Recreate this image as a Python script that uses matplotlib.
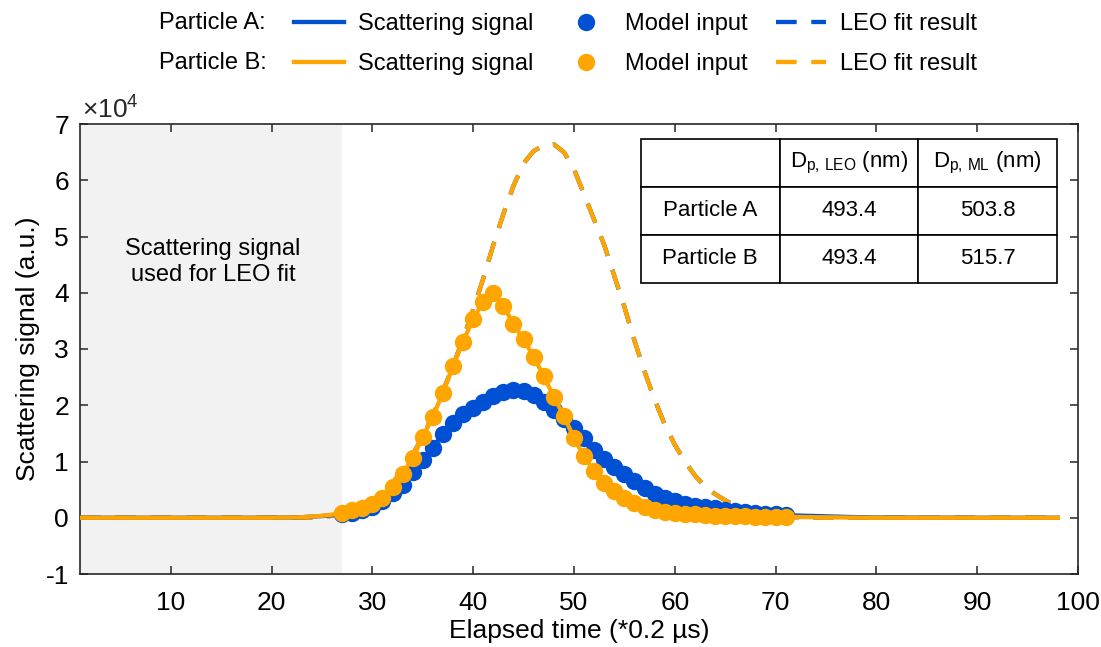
import matplotlib
matplotlib.use("Agg")
import matplotlib.pyplot as plt
from matplotlib.lines import Line2D

plt.rcParams['font.family'] = ['Liberation Sans', 'DejaVu Sans']
plt.rcParams['mathtext.fontset'] = 'custom'
plt.rcParams['mathtext.rm'] = 'Liberation Sans'
plt.rcParams['mathtext.it'] = 'Liberation Sans:italic'
plt.rcParams['axes.unicode_minus'] = False

# ---------------- data (signal in units of 1e4) ----------------
model_time = list(range(27, 72))
model_a = [0.06, 0.09, 0.13, 0.19, 0.29, 0.44, 0.59, 0.81, 1.03, 1.24,
           1.49, 1.68, 1.84, 1.96, 2.06, 2.16, 2.24, 2.27, 2.25, 2.18,
           2.06, 1.92, 1.76, 1.60, 1.41, 1.21, 1.05, 0.91, 0.78, 0.65,
           0.53, 0.43, 0.35, 0.29, 0.25, 0.21, 0.19, 0.17, 0.14, 0.12,
           0.10, 0.08, 0.07, 0.06, 0.05]
model_b = [0.08, 0.13, 0.18, 0.25, 0.35, 0.55, 0.78, 1.06, 1.43, 1.80,
           2.22, 2.69, 3.13, 3.54, 3.83, 3.99, 3.76, 3.45, 3.17, 2.86,
           2.52, 2.15, 1.81, 1.42, 1.09, 0.83, 0.62, 0.47, 0.35, 0.26,
           0.20, 0.14, 0.11, 0.09, 0.07, 0.06, 0.05, 0.04, 0.04, 0.03,
           0.03, 0.02, 0.02, 0.02, 0.02]

# signal outside the model-input window
pre_time = [1, 10, 20, 22, 23, 24, 25, 26]
pre_a = [0.0, 0.0, 0.0, 0.005, 0.01, 0.02, 0.03, 0.045]
pre_b = [0.0, 0.0, 0.0, 0.005, 0.01, 0.02, 0.035, 0.055]
post_time = [72, 74, 77, 80, 90, 98]
post_a = [0.04, 0.03, 0.015, 0.005, 0.0, 0.0]
post_b = [0.015, 0.01, 0.005, 0.0, 0.0, 0.0]

# LEO fit result (identical for both particles)
leo_time = [1, 10, 20, 23, 24, 25, 26, 27, 28, 29, 30, 31, 32, 33, 34, 35,
            36, 37, 38, 39, 40, 41, 42, 43, 44, 45, 46, 47, 48, 49, 50, 51,
            52, 53, 54, 55, 56, 57, 58, 59, 60, 61, 62, 63, 64, 65, 66, 67,
            68, 69, 70, 71, 72, 75, 80, 90, 98]
leo_fit = [0.0, 0.0, 0.0, 0.0, 0.005, 0.015, 0.035, 0.07, 0.12, 0.2, 0.3,
           0.45, 0.62, 0.85, 1.12, 1.45, 1.82, 2.25, 2.7, 3.18, 3.7, 4.25,
           4.85, 5.4, 5.9, 6.3, 6.52, 6.62, 6.64, 6.5, 6.2, 5.75, 5.3, 4.85,
           4.3, 3.75, 3.15, 2.6, 2.1, 1.66, 1.3, 1.0, 0.75, 0.56, 0.42, 0.31,
           0.22, 0.15, 0.1, 0.06, 0.04, 0.02, 0.01, 0.0, 0.0, 0.0, 0.0]

table_cols = ['', r'D$_{\mathrm{p,\,LEO}}$ (nm)', r'D$_{\mathrm{p,\,ML}}$ (nm)']
table_rows = [['Particle A', '493.4', '503.8'],
              ['Particle B', '493.4', '515.7']]

x_ticks = [10, 20, 30, 40, 50, 60, 70, 80, 90, 100]
y_ticks = [-1, 0, 1, 2, 3, 4, 5, 6, 7]

BLUE = '#0050D4'
ORANGE = '#FFA500'
DARK = '#262626'

line_a_t = pre_time + model_time + post_time
line_a = pre_a + model_a + post_a
line_b = pre_b + model_b + post_b

fig = plt.figure(figsize=(11.01, 6.47), dpi=100)
ax = fig.add_axes([80 / 1101, 1 - 574 / 647, 998 / 1101, 450 / 647])

ax.axvspan(1, 27, color='#F2F2F2', zorder=0, lw=0)

LW = 3.1
dash = (4.8, 3.4)
MS = 12.5
ax.plot(leo_time, leo_fit, color=BLUE, lw=LW, dashes=dash, zorder=2,
        dash_capstyle='butt')
ax.plot(leo_time, leo_fit, color=ORANGE, lw=LW, dashes=dash, zorder=2.1,
        dash_capstyle='butt')
ax.plot(line_a_t, line_a, color=BLUE, lw=LW, zorder=3)
ax.plot(model_time, model_a, 'o', color=BLUE, ms=MS, mew=0, zorder=3.1)
ax.plot(line_a_t, line_b, color=ORANGE, lw=LW, zorder=4)
ax.plot(model_time, model_b, 'o', color=ORANGE, ms=MS, mew=0, zorder=4.1)

ax.set_xlim(1, 100)
ax.set_ylim(-1, 7)
ax.set_xticks(x_ticks)
ax.set_yticks(y_ticks)
ax.tick_params(direction='in', top=True, right=True, length=6, width=1.1,
               color=DARK, labelsize=19, labelcolor='#000000')
ax.tick_params(axis='x', pad=12)
ax.tick_params(axis='y', pad=8)
for s in ax.spines.values():
    s.set_linewidth(1.2)
    s.set_color(DARK)
ax.set_xlabel('Elapsed time (*0.2 µs)', fontsize=19, labelpad=3)
ax.set_ylabel('Scattering signal (a.u.)', fontsize=19, labelpad=4)

fig.text(82 / 1101, 1 - 110 / 647, '×10$^{4}$', fontsize=19, ha='left',
         va='center', color=DARK)

ax.text(14.2, 4.55, 'Scattering signal\nused for LEO fit', fontsize=17,
        ha='center', va='center', linespacing=1.25)

# table
tbl = ax.table(cellText=table_rows, colLabels=table_cols, cellLoc='center',
               bbox=[0.562, 0.6467, 0.417, 0.32])
tbl.auto_set_font_size(False)
tbl.set_fontsize(16)
for (r, c), cell in tbl.get_celld().items():
    cell.set_linewidth(1.2)
    cell.set_edgecolor('#000000')
    cell.set_facecolor('white')
    cell.set_zorder(5)
tbl.set_zorder(6)

# legend
handles = [
    Line2D([], [], color=BLUE, lw=LW),
    Line2D([], [], color=ORANGE, lw=LW),
    Line2D([], [], color=BLUE, marker='o', ls='none', ms=MS, mew=0),
    Line2D([], [], color=ORANGE, marker='o', ls='none', ms=MS, mew=0),
    Line2D([], [], color=BLUE, lw=LW, dashes=dash),
    Line2D([], [], color=ORANGE, lw=LW, dashes=dash),
]
labels = ['Scattering signal', 'Scattering signal', 'Model input',
          'Model input', 'LEO fit result', 'LEO fit result']
leg = fig.legend(handles, labels, ncol=3, loc='center left',
                 bbox_to_anchor=(294 / 1101, 1 - 44 / 647), frameon=False,
                 fontsize=17, handlelength=2.1, handletextpad=0.6,
                 columnspacing=1.2, labelspacing=0.76, borderpad=0,
                 borderaxespad=0)
fig.text(159 / 1101, 1 - 23 / 647, 'Particle A:', fontsize=17, ha='left',
         va='center')
fig.text(159 / 1101, 1 - 63 / 647, 'Particle B:', fontsize=17, ha='left',
         va='center')

fig.savefig('out.png', dpi=100)
